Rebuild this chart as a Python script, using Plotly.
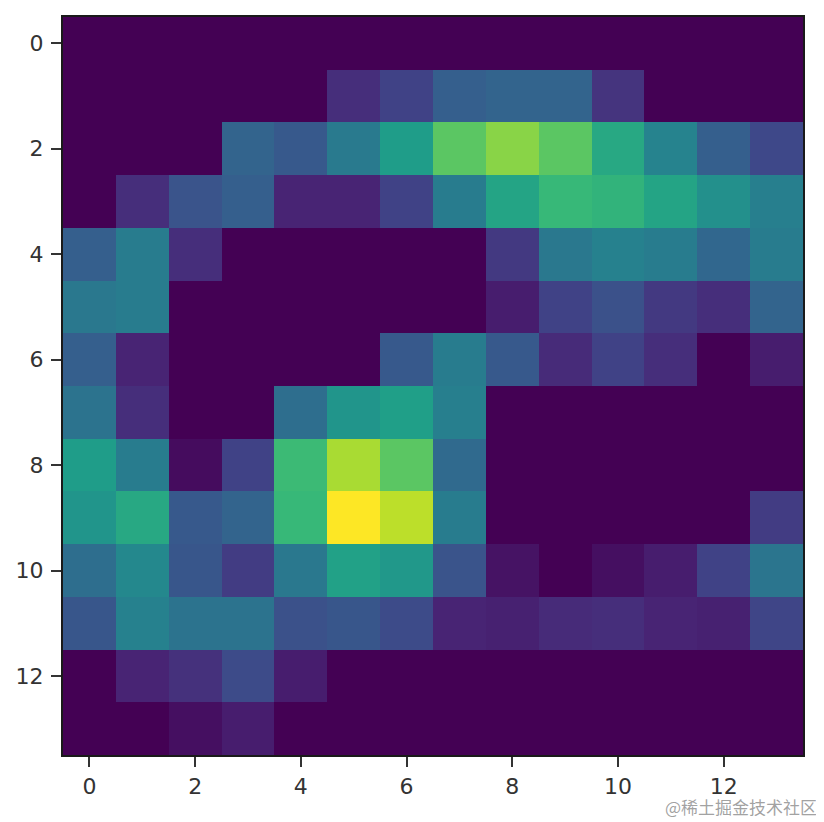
import plotly.graph_objects as go

row_labels = list(range(14))
col_labels = list(range(14))
row_00 = [0]*14
row_01 = [0,0,0,0,0,.13,.20,.30,.32,.32,.15,0,0,0]
row_02 = [0,0,0,.32,.28,.41,.55,.74,.82,.74,.60,.45,.30,.22]
row_03 = [0,.13,.26,.30,.10,.10,.20,.42,.58,.67,.65,.58,.50,.43]
row_04 = [.30,.42,.13,0,0,0,0,0,.17,.40,.44,.42,.33,.42]
row_05 = [.40,.42,0,0,0,0,0,0,.08,.20,.25,.17,.13,.32]
row_06 = [.30,.10,0,0,0,0,.28,.42,.28,.12,.20,.13,0,.08]
row_07 = [.38,.13,0,0,.36,.52,.56,.43,0,0,0,0,0,0]
row_08 = [.55,.42,.03,.20,.68,.87,.74,.34,0,0,0,0,0,0]
row_09 = [.52,.60,.28,.32,.67,1,.90,.42,0,0,0,0,0,.18]
row_10 = [.36,.47,.27,.18,.40,.57,.53,.26,.05,0,.04,.08,.20,.39]
row_11 = [.27,.44,.38,.38,.25,.27,.23,.10,.09,.12,.13,.10,.09,.21]
row_12 = [0,.10,.14,.23,.08,0,0,0,0,0,0,0,0,0]
row_13 = [0,0,.04,.08,0,0,0,0,0,0,0,0,0,0]
values = [row_00,row_01,row_02,row_03,row_04,row_05,row_06,row_07,
          row_08,row_09,row_10,row_11,row_12,row_13]
tick_vals = [0,2,4,6,8,10,12]

fig = go.Figure(go.Heatmap(z=values, x=col_labels, y=row_labels,
                           colorscale="Viridis", zmin=0, zmax=1,
                           showscale=False, xgap=0, ygap=0))
axis = dict(tickmode="array", tickvals=tick_vals, ticks="outside", ticklen=10,
            tickwidth=1.5, tickcolor="#333", showline=True, linecolor="#1a1a1a",
            linewidth=2, mirror=True, showgrid=False, zeroline=False, automargin=False,
            tickfont=dict(family="DejaVu Sans", size=22, color="#333"))
fig.update_xaxes(range=[-0.5,13.5], ticklabelstandoff=1, **axis)
fig.update_yaxes(range=[13.5,-0.5], ticklabelstandoff=3, **axis)
fig.update_layout(width=816, height=814, paper_bgcolor="white", plot_bgcolor="white",
                  margin=dict(l=55, r=21, t=9, b=67), autosize=False)
fig.add_annotation(text="@稀土掘金技术社区", xref="paper", yref="paper", x=1.0216, y=-0.0704,
                   xanchor="right", yanchor="middle", showarrow=False,
                   font=dict(family="Noto Sans CJK SC", size=17, color="rgba(120,120,120,0.7)"))
fig.write_html("out.html")
